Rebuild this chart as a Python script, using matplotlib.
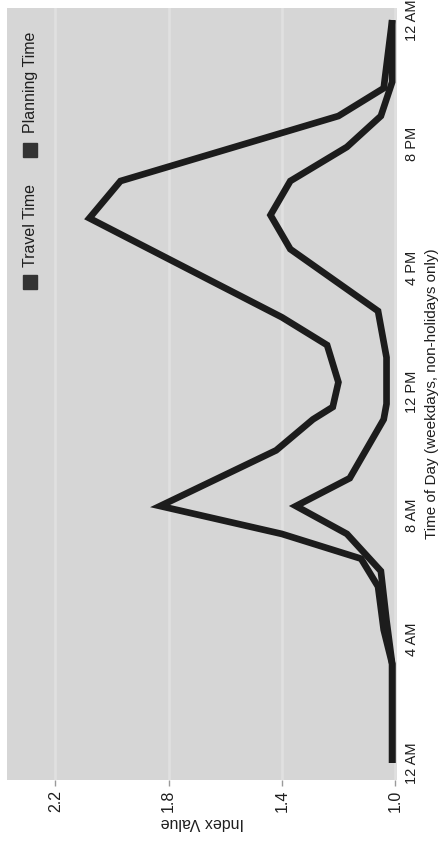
import matplotlib
matplotlib.use("Agg")
import matplotlib.pyplot as plt

# Hourly index profile, weekdays only. Hours run 0..24 (midnight to midnight).
travel_hours = [0, 3.2, 4.6, 6.2, 7.4, 8.3, 9.2, 11.1, 11.6, 13.1, 14.6,
                16.6, 17.7, 18.8, 19.9, 20.9, 22.0, 24]
travel_index = [1.01, 1.01, 1.03, 1.05, 1.17, 1.35, 1.16, 1.04, 1.03, 1.03,
                1.06, 1.37, 1.44, 1.37, 1.17, 1.05, 1.01, 1.01]

planning_hours = [0, 3.2, 4.3, 5.7, 6.6, 7.4, 8.3, 10.1, 11.1, 11.5, 12.3,
                  13.5, 14.4, 17.6, 18.8, 20.9, 21.8, 24]
planning_index = [1.01, 1.01, 1.04, 1.06, 1.12, 1.40, 1.83, 1.42, 1.29, 1.22,
                  1.20, 1.24, 1.40, 2.08, 1.97, 1.20, 1.04, 1.01]

hour_ticks = [0, 4, 8, 12, 16, 20, 24]
hour_labels = ["12 AM", "4 AM", "8 AM", "12 PM", "4 PM", "8 PM", "12 AM"]
index_ticks = [1.0, 1.4, 1.8, 2.2]
index_labels = ["1.0", "1.4", "1.8", "2.2"]

FONT = ["Liberation Sans Narrow", "Liberation Sans", "DejaVu Sans"]
TEXT = "#1e1e1e"
LINE = "#1c1c1c"

plt.rcParams["font.family"] = FONT

fig = plt.figure(figsize=(4.43, 8.41), dpi=100)
ax = fig.add_axes([7 / 443, 1 - 780 / 841, 390 / 443, 772 / 841])
ax.set_facecolor("#d6d6d6")

# The chart is laid out sideways: index value runs right-to-left,
# time of day runs bottom-to-top.
ax.set_xlim(2.371, 0.993)
ax.set_ylim(-0.55, 24.39)

ax.grid(axis="x", color="#e8e8e8", linewidth=1.8, alpha=0.6)
ax.set_axisbelow(True)

ax.plot(travel_index, travel_hours, color=LINE, linewidth=4.8,
        solid_joinstyle="miter", solid_capstyle="butt", zorder=3)
ax.plot(planning_index, planning_hours, color=LINE, linewidth=4.8,
        solid_joinstyle="miter", solid_capstyle="butt", zorder=3)

for s in ax.spines.values():
    s.set_visible(False)

ax.set_xticks(index_ticks, index_labels)
ax.tick_params(axis="x", labelrotation=90, length=4, width=1, color="#9a9a9a",
               labelsize=11.5, labelcolor=TEXT, pad=3)
ax.set_xlabel("Index Value", rotation=180, fontsize=11.5, color=TEXT,
              labelpad=2)

ax.yaxis.tick_right()
ax.yaxis.set_label_position("right")
ax.set_yticks(hour_ticks, hour_labels)
ax.tick_params(axis="y", labelrotation=90, length=0, labelsize=10.5,
               labelcolor=TEXT, pad=6)
for lbl in ax.get_yticklabels():
    lbl.set_verticalalignment("center")
ax.set_ylabel("Time of Day (weekdays, non-holidays only)", rotation=90,
              fontsize=11, color=TEXT, labelpad=4)

# Legend, drawn sideways to follow the layout
legend_items = [("Travel Time", 0.645, 0.665), ("Planning Time", 0.816, 0.838)]
for name, sq_y, txt_y in legend_items:
    ax.plot([0.059], [sq_y], marker="s", markersize=9.5, color="#333333",
            transform=ax.transAxes, clip_on=False, zorder=4)
    ax.text(0.059, txt_y, name, rotation=90, ha="center", va="bottom",
            fontsize=11.5, color=TEXT, transform=ax.transAxes, zorder=4)

fig.savefig("out.png", dpi=100, facecolor="white")
